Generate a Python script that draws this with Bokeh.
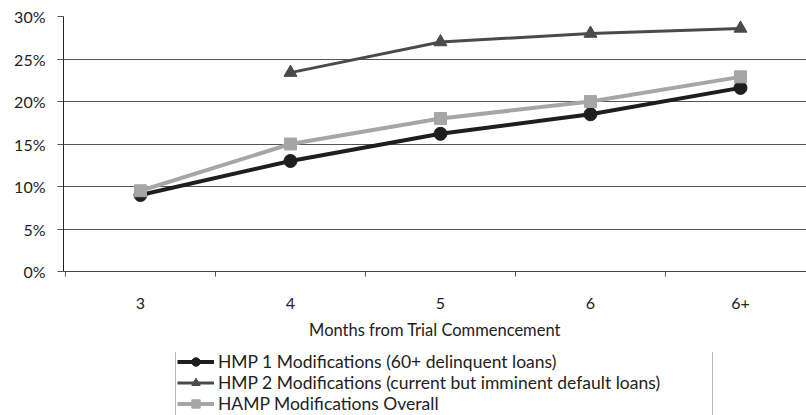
from bokeh.plotting import figure
from bokeh.layouts import column
from bokeh.models import (Range1d, FixedTicker, NumeralTickFormatter, Legend, LegendItem)
from bokeh.embed import file_html
from bokeh.resources import INLINE

categories = ["3", "4", "5", "6", "6+"]
hmp1 = [0.090, 0.130, 0.162, 0.185, 0.216]
hmp2 = [float("nan"), 0.234, 0.270, 0.280, 0.286]
hamp = [0.095, 0.150, 0.180, 0.200, 0.229]
y_ticks = [0.0, 0.05, 0.10, 0.15, 0.20, 0.25, 0.30]
series_names = ["HMP 1 Modifications (60+ delinquent loans)",
                "HMP 2 Modifications (current but imminent default loans)",
                "HAMP Modifications Overall"]

x = list(range(len(categories)))
FONT = "Lato"

p = figure(width=806, height=352, output_backend="svg", toolbar_location=None,
           x_range=Range1d(-0.513, 4.44), y_range=Range1d(0, 0.30),
           min_border_left=63, min_border_right=0, min_border_top=16,
           min_border_bottom=81)
p.outline_line_color = None
p.background_fill_color = "white"
p.border_fill_color = "white"

p.xgrid.grid_line_color = None
p.ygrid.grid_line_color = "#555555"
p.ygrid.grid_line_width = 1

# x axis
p.xaxis.ticker = FixedTicker(ticks=x, minor_ticks=[i - 0.5 for i in range(len(categories) + 1)])
p.xaxis.major_label_overrides = {i: c for i, c in zip(x, categories)}
p.xaxis.major_tick_out = 0
p.xaxis.major_tick_in = 0
p.xaxis.minor_tick_out = 5
p.xaxis.minor_tick_in = 0
p.xaxis.minor_tick_line_color = "#555555"
p.xaxis.axis_line_color = "#444444"
p.xaxis.major_label_standoff = 21
p.xaxis.major_label_text_font = FONT
p.xaxis.major_label_text_font_size = "16px"
p.xaxis.major_label_text_color = "#222222"
p.xaxis.axis_label = "Months from Trial Commencement"
p.xaxis.axis_label_text_font = FONT
p.xaxis.axis_label_text_font_style = "normal"
p.xaxis.axis_label_text_font_size = "16.5px"
p.xaxis.axis_label_text_color = "#222222"
p.xaxis.axis_label_standoff = 8

# y axis
p.yaxis.ticker = FixedTicker(ticks=y_ticks)
p.yaxis.formatter = NumeralTickFormatter(format="0%")
p.yaxis.major_tick_out = 6
p.yaxis.major_tick_in = 0
p.yaxis.minor_tick_line_color = None
p.yaxis.axis_line_color = "#222222"
p.yaxis.major_tick_line_color = "#555555"
p.yaxis.major_label_standoff = 12
p.yaxis.major_label_text_font = FONT
p.yaxis.major_label_text_font_size = "16px"
p.yaxis.major_label_text_color = "#222222"

c1, c2, c3 = "#1e1e1e", "#4a4a4a", "#a6a6a6"
styles = [(c1, 4, "circle", 13), (c2, 3, "triangle", 13), (c3, 4, "square", 12)]
all_series = [hmp1, hmp2, hamp]

for ys, (col, lw, mk, sz) in zip(all_series, styles):
    p.line(x, ys, line_color=col, line_width=lw)
    p.scatter(x, ys, marker=mk, size=sz, fill_color=col, line_color=col)

# legend panel: a separate figure below the chart; its data view is
# scrolled away from the data so only the legend is visible
q = figure(width=806, height=63, output_backend="svg", toolbar_location=None,
           x_range=Range1d(100, 101), y_range=Range1d(100, 101),
           min_border_left=0, min_border_right=0, min_border_top=0, min_border_bottom=0)
q.axis.visible = False
q.grid.visible = False
q.outline_line_color = None
q.background_fill_color = "white"
q.border_fill_color = "white"

items = []
for name, ys, (col, lw, mk, sz) in zip(series_names, all_series, styles):
    lr = q.line(x, ys, line_color=col, line_width=lw)
    sr = q.scatter(x, ys, marker=mk, size=sz, fill_color=col, line_color=col)
    items.append(LegendItem(label=name, renderers=[lr, sr]))

legend = Legend(items=items, location=(112, -1))
legend.padding = 1
legend.spacing = 0
legend.glyph_width = 37
legend.glyph_height = 21
legend.label_standoff = 4
legend.label_height = 21
legend.label_width = 493
legend.label_text_font = FONT
legend.label_text_font_size = "17.5px"
legend.label_text_color = "#222222"
legend.border_line_color = "#777777"
legend.border_line_width = 1
legend.background_fill_alpha = 0
legend.margin = 0
q.add_layout(legend, "center")

open("out.html", "w").write(file_html(column(p, q, spacing=0), INLINE))
